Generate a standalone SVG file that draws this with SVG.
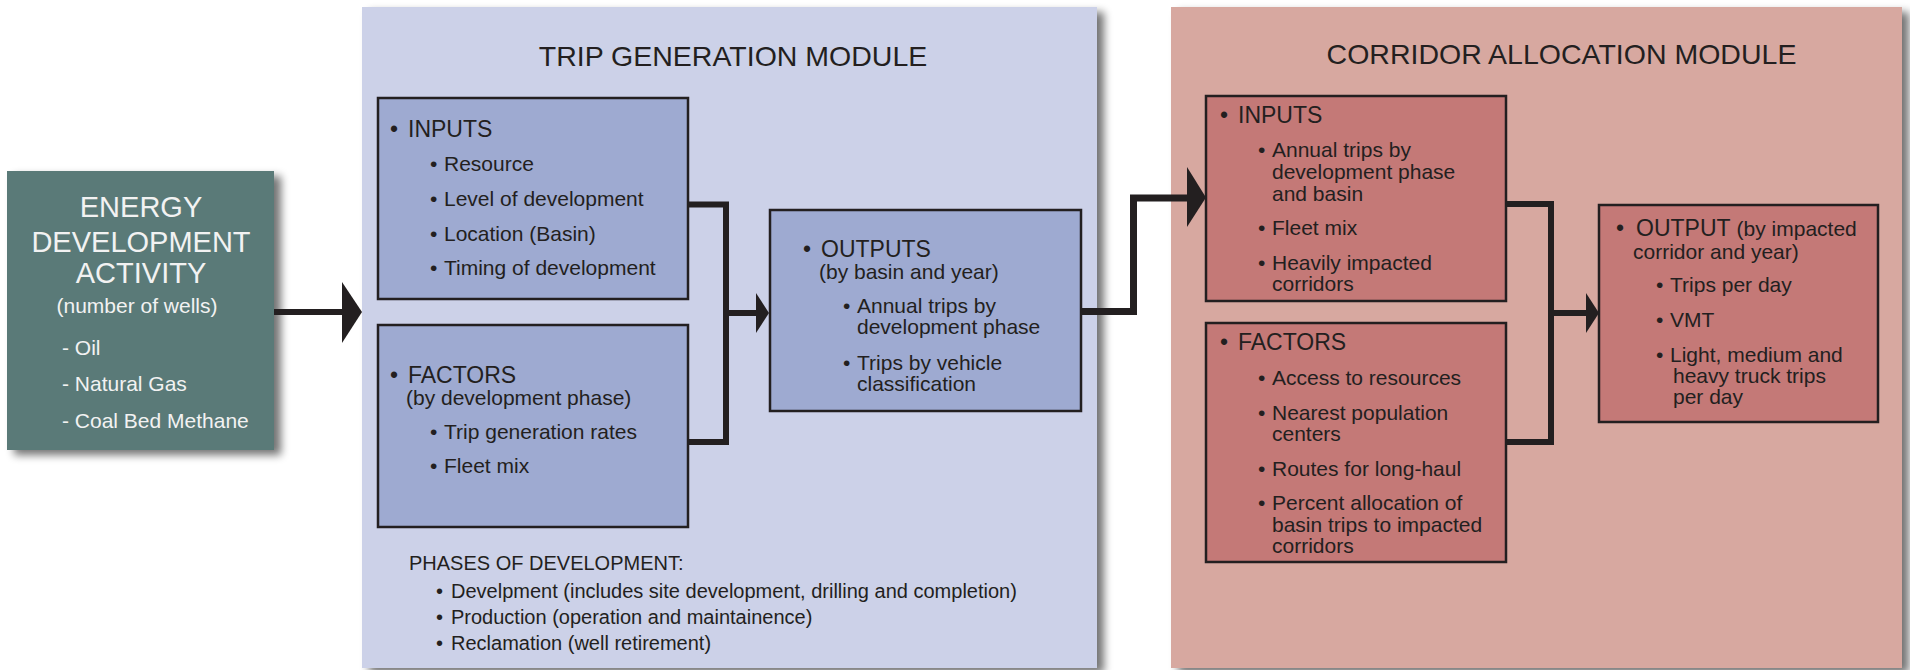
<svg xmlns="http://www.w3.org/2000/svg" width="1910" height="670" viewBox="0 0 1910 670">
<style>
text{font-family:"Liberation Sans",Arial,sans-serif;fill:#231f20}
.title{font-size:28.5px}
.hd{font-size:23px}
.it{font-size:21px}
.ph{font-size:20px}
.bx{stroke:#231f20;stroke-width:2.5}
.blue{fill:#9eaad1}
.red{fill:#c47977}
.conn{fill:none;stroke:#231f20;stroke-width:6;stroke-linejoin:miter}
.head{fill:#231f20}
.en{fill:#f2f2f2;font-size:29px;text-anchor:middle}
.ens{fill:#f2f2f2;font-size:21px}
</style>
<defs>
<filter id="sh" x="-5%" y="-5%" width="115%" height="115%">
<feGaussianBlur in="SourceAlpha" stdDeviation="4"/>
<feOffset dx="7" dy="5" result="b"/>
<feComponentTransfer><feFuncA type="linear" slope="0.55"/></feComponentTransfer>
<feMerge><feMergeNode/><feMergeNode in="SourceGraphic"/></feMerge>
</filter>
</defs>
<rect width="1910" height="670" fill="#ffffff"/>

<g id="trip-module">
<rect x="362" y="7" width="735" height="661" fill="#ccd1e8" filter="url(#sh)"/>
<text class="title" x="733" y="66" text-anchor="middle">TRIP GENERATION MODULE</text>
</g>
<g id="corridor-module">
<rect x="1171" y="7" width="731" height="661" fill="#d7a8a0" filter="url(#sh)"/>
<text class="title" x="1561.5" y="64" text-anchor="middle">CORRIDOR ALLOCATION MODULE</text>
</g>

<g id="energy">
<rect x="7" y="171" width="267" height="279" fill="#5a7a78" filter="url(#sh)"/>
<text class="en" x="141" y="217">ENERGY</text>
<text class="en" x="141" y="252">DEVELOPMENT</text>
<text class="en" x="141" y="283">ACTIVITY</text>
<text class="ens" x="137" y="313" text-anchor="middle" font-size="22">(number of wells)</text>
<text class="ens" x="62" y="355">- Oil</text>
<text class="ens" x="62" y="391">- Natural Gas</text>
<text class="ens" x="62" y="428">- Coal Bed Methane</text>
</g>

<g id="tg-inputs">
<rect class="bx blue" x="378" y="98" width="310" height="201"/>
<text class="hd" x="390" y="137">•</text><text class="hd" x="408" y="137">INPUTS</text>
<text class="it" x="430" y="171">•</text><text class="it" x="444" y="171">Resource</text>
<text class="it" x="430" y="206">•</text><text class="it" x="444" y="206">Level of development</text>
<text class="it" x="430" y="241">•</text><text class="it" x="444" y="241">Location (Basin)</text>
<text class="it" x="430" y="275">•</text><text class="it" x="444" y="275">Timing of development</text>
</g>

<g id="tg-factors">
<rect class="bx blue" x="378" y="325" width="310" height="202"/>
<text class="hd" x="390" y="383">•</text><text class="hd" x="408" y="383">FACTORS<tspan class="it" x="406" y="405">(by development phase)</tspan></text>
<text class="it" x="430" y="439">•</text><text class="it" x="444" y="439">Trip generation rates</text>
<text class="it" x="430" y="473">•</text><text class="it" x="444" y="473">Fleet mix</text>
</g>

<g id="tg-outputs">
<rect class="bx blue" x="770" y="210" width="311" height="201"/>
<text class="hd" x="803" y="257">•</text><text class="hd" x="821" y="257">OUTPUTS<tspan class="it" x="819" y="279">(by basin and year)</tspan></text>
<text class="it" x="843" y="313">•</text><text class="it" x="857" y="313">Annual trips by<tspan x="857" y="334">development phase</tspan></text>
<text class="it" x="843" y="370">•</text><text class="it" x="857" y="370">Trips by vehicle<tspan x="857" y="391">classification</tspan></text>
</g>

<g id="phases">
<text class="ph" x="409" y="570">PHASES OF DEVELOPMENT:</text>
<text class="ph" x="436" y="598">•</text><text class="ph" x="451" y="598">Develpment (includes site development, drilling and completion)</text>
<text class="ph" x="436" y="624">•</text><text class="ph" x="451" y="624">Production (operation and maintainence)</text>
<text class="ph" x="436" y="650">•</text><text class="ph" x="451" y="650">Reclamation (well retirement)</text>
</g>

<g id="ca-inputs">
<rect class="bx red" x="1206" y="96" width="300" height="205"/>
<text class="hd" x="1220" y="123">•</text><text class="hd" x="1238" y="123">INPUTS</text>
<text class="it" x="1258" y="156.5">•</text><text class="it" x="1272" y="156.5">Annual trips by<tspan x="1272" y="178.5">development phase</tspan><tspan x="1272" y="201">and basin</tspan></text>
<text class="it" x="1258" y="235">•</text><text class="it" x="1272" y="235">Fleet mix</text>
<text class="it" x="1258" y="270">•</text><text class="it" x="1272" y="270">Heavily impacted<tspan x="1272" y="291">corridors</tspan></text>
</g>

<g id="ca-factors">
<rect class="bx red" x="1206" y="323" width="300" height="239"/>
<text class="hd" x="1220" y="350">•</text><text class="hd" x="1238" y="350">FACTORS</text>
<text class="it" x="1258" y="385">•</text><text class="it" x="1272" y="385">Access to resources</text>
<text class="it" x="1258" y="420">•</text><text class="it" x="1272" y="420">Nearest population<tspan x="1272" y="441">centers</tspan></text>
<text class="it" x="1258" y="476">•</text><text class="it" x="1272" y="476">Routes for long-haul</text>
<text class="it" x="1258" y="510">•</text><text class="it" x="1272" y="510">Percent allocation of<tspan x="1272" y="532">basin trips to impacted</tspan><tspan x="1272" y="553">corridors</tspan></text>
</g>

<g id="ca-output">
<rect class="bx red" x="1599" y="205" width="279" height="217"/>
<text class="hd" x="1616" y="236">•</text><text class="hd" x="1636" y="236">OUTPUT <tspan class="it">(by impacted</tspan><tspan class="it" x="1633" y="259">corridor and year)</tspan></text>
<text class="it" x="1656" y="292">•</text><text class="it" x="1670" y="292">Trips per day</text>
<text class="it" x="1656" y="327">•</text><text class="it" x="1670" y="327">VMT</text>
<text class="it" x="1656" y="362">•</text><text class="it" x="1670" y="362">Light, medium and<tspan x="1673" y="383">heavy truck trips</tspan><tspan x="1673" y="404">per day</tspan></text>
</g>

<g id="connectors">
<path class="conn" d="M274 312 H343"/>
<polygon class="head" points="342,282 362,312 342,343"/>
<path class="conn" d="M688 204.5 H726 V442 H688 M726 313 H757"/>
<polygon class="head" points="756,293 769,313 756,333"/>
<path class="conn" style="stroke-width:7" d="M1081 311.5 H1133.5 V198 H1188"/>
<polygon class="head" points="1187,167 1206,197.5 1187,227"/>
<path class="conn" d="M1506 204 H1551 V442 H1506 M1551 313 H1587"/>
<polygon class="head" points="1586,293 1599,313 1586,333"/>
</g>
</svg>
